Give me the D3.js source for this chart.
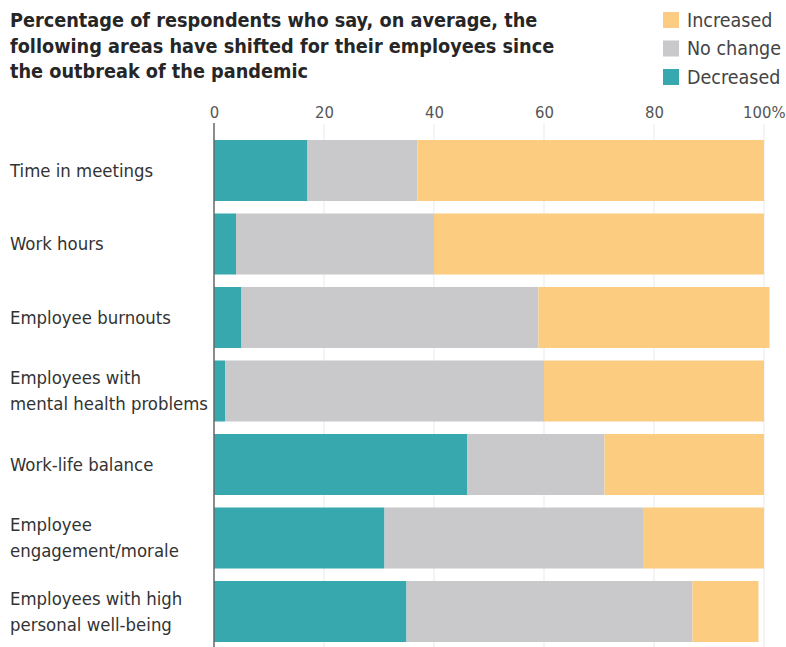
<!DOCTYPE html>
<html lang="en">
<head>
  <meta charset="UTF-8">
  <title>Shifts since the pandemic</title>
  <style>
  body { margin: 0; background: #fff; }
  text { font-family: "DejaVu Sans Condensed", "Liberation Sans Narrow", "Roboto", sans-serif; }
  .title { font-weight: bold; fill: #262626; font-size: 19.7px; }
  .cat { fill: #333; font-size: 18.4px; }
  .leg { fill: #444; font-size: 19.5px; }
  .tick text { fill: #555; font-size: 16.5px; }
  </style>
</head>
<body>
  <script src="https://d3js.org/d3.v7.min.js"></script>
  <script type="text/javascript">

    var categories = [
      "Time in meetings",
      "Work hours",
      "Employee burnouts",
      "Employees with\nmental health problems",
      "Work-life balance",
      "Employee\nengagement/morale",
      "Employees with  high\npersonal well-being"
    ];
    var decreased = [17, 4, 5, 2, 46, 31, 35];
    var noChange  = [20, 36, 54, 58, 25, 47, 52];
    var increased = [63, 60, 42, 40, 29, 22, 12];

    var seriesNames = ["Decreased", "No change", "Increased"];
    var legendNames = ["Increased", "No change", "Decreased"];
    var xTicks = [0, 20, 40, 60, 80, 100];
    var titleLines = [
      "Percentage of respondents who say, on average, the",
      "following areas have shifted for their employees since",
      "the outbreak of the pandemic"
    ];

    var width = 786;
    var height = 647;

    var color = d3.scaleOrdinal()
        .domain(seriesNames)
        .range(["#37a8ae", "#c9c8ca", "#fccd81"]);

    var svg = d3.select("body")
        .append("svg")
          .attr("width", width)
          .attr("height", height);

    // table for the stack
    var table = categories.map(function(c, i) {
      return { cat: c, "Decreased": decreased[i], "No change": noChange[i], "Increased": increased[i] };
    });
    var stacked = d3.stack().keys(seriesNames)(table);

    var x = d3.scaleLinear().domain([0, 100]).range([214, 764]);
    var y = d3.scaleBand()
        .domain(categories)
        .range([133.75, 648.25])
        .paddingInner(0.17)
        .paddingOuter(0.085);

    // gridlines
    svg.append("g")
      .selectAll("line")
      .data(xTicks.slice(1))
      .enter()
      .append("line")
        .attr("x1", function(d){ return x(d); })
        .attr("x2", function(d){ return x(d); })
        .attr("y1", 124)
        .attr("y2", height)
        .attr("stroke", "#e9e9e9")
        .attr("stroke-width", 1);

    // bars
    svg.append("g")
      .selectAll("g")
      .data(stacked)
      .enter()
      .append("g")
        .attr("fill", function(d){ return color(d.key); })
      .selectAll("rect")
      .data(function(d){ return d; })
      .enter()
      .append("rect")
        .attr("x", function(d){ return x(d[0]); })
        .attr("width", function(d){ return x(d[1]) - x(d[0]); })
        .attr("y", function(d){ return y(d.data.cat); })
        .attr("height", y.bandwidth());

    // zero line
    svg.append("line")
      .attr("x1", x(0)).attr("x2", x(0))
      .attr("y1", 123).attr("y2", height)
      .attr("stroke", "#666")
      .attr("stroke-width", 1.5);

    // top axis labels
    var axis = svg.append("g")
        .attr("transform", "translate(0,118)")
        .call(d3.axisTop(x)
          .tickValues(xTicks)
          .tickSize(0)
          .tickPadding(0)
          .tickFormat(function(d){ return d === 100 ? "100%" : d; }));
    axis.select(".domain").remove();
    axis.selectAll(".tick text")
        .attr("text-anchor", function(d){ return d === 100 ? "end" : "middle"; })
        .attr("dx", function(d){ return d === 100 ? 21 : 0; });

    // category labels
    var cat = svg.append("g")
      .selectAll("text")
      .data(categories)
      .enter()
      .append("text")
        .attr("class", "cat")
        .attr("y", function(d){
          var n = d.split("\n").length;
          return y(d) + y.bandwidth() / 2 - (n - 1) * 13;
        });
    cat.selectAll("tspan")
      .data(function(d){ return d.split("\n"); })
      .enter()
      .append("tspan")
        .attr("x", 10)
        .attr("dy", function(d, i){ return i ? 26 : "0.35em"; })
        .text(function(d){ return d; });

    // title
    svg.append("g")
      .selectAll("text")
      .data(titleLines)
      .enter()
      .append("text")
        .attr("class", "title")
        .attr("x", 10)
        .attr("y", function(d, i){ return 27 + i * 25.5; })
        .text(function(d){ return d; });

    // legend
    var leg = svg.append("g")
      .selectAll("g")
      .data(legendNames)
      .enter()
      .append("g")
        .attr("transform", function(d, i){ return "translate(663," + (12 + i * 28.5) + ")"; });
    leg.append("rect")
        .attr("width", 16)
        .attr("height", 16)
        .attr("fill", function(d){ return color(d); });
    leg.append("text")
        .attr("class", "leg")
        .attr("x", 24)
        .attr("y", 8)
        .attr("dy", "0.35em")
        .text(function(d){ return d; });

  </script>
</body>
</html>
